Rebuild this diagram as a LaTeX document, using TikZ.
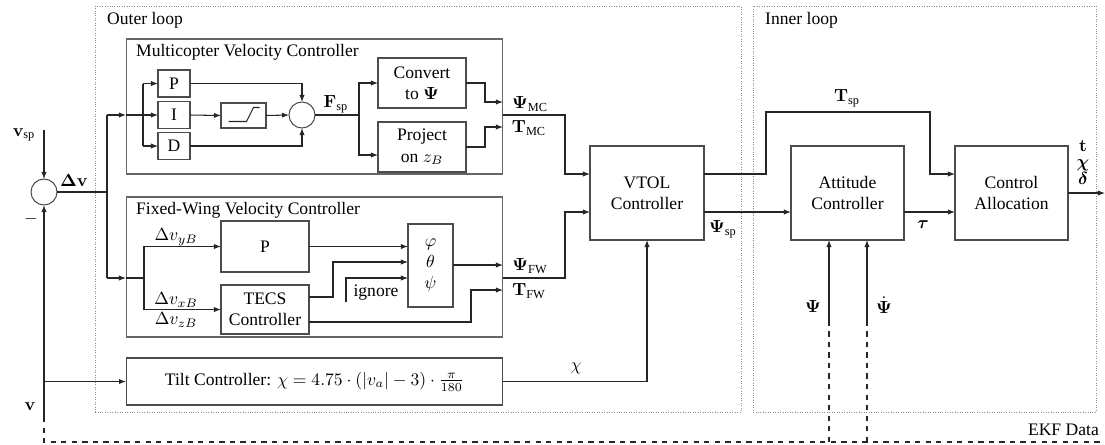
\documentclass[tikz,border=0pt]{standalone}
\usepackage{amsmath}
\usepackage{amssymb}
\usepackage[no-math]{fontspec}
\setmainfont{Liberation Serif}
\usetikzlibrary{arrows.meta}
\tikzset{block/.style = {shape = rectangle, draw = black!70, semithick, inner sep = 0pt, outer sep = 0pt, align = center}}
\tikzset{sumnode/.style = {shape = circle, draw = black!70, semithick, minimum size = 0.52cm, inner sep = 0pt, outer sep = 0pt}}
\tikzset{group/.style = {shape = rectangle, draw = black!60, semithick, inner sep = 0pt, outer sep = 0pt}}
\tikzset{loopbox/.style = {shape = rectangle, draw = black!45, densely dotted, inner sep = 0pt, outer sep = 0pt}}
\tikzset{wire/.style = {draw = black!85, semithick}}
\tikzset{arr/.style = {wire, -{Latex[length = 4pt, width = 3pt]}}}
\tikzset{feedback/.style = {wire, dashed}}

\begin{document}
\begin{tikzpicture}[x = 0.02cm, y = -0.02cm]
\useasboundingbox (0, 0) rectangle (1105, 444);

% loops
\node[loopbox, minimum width = 12.92cm, minimum height = 8.12cm] (outer) at (418, 209) {};
\node[loopbox, minimum width = 6.86cm, minimum height = 8.12cm] (inner) at (924.5, 209) {};
\node[anchor = west] (outertitle) at (101, 20) {Outer loop};
\node[anchor = west] (innertitle) at (759, 20) {Inner loop};

% multicopter velocity controller
\node[group, minimum width = 7.54cm, minimum height = 2.7cm] (mcbox) at (314.5, 106.5) {};
\node[anchor = west] (mctitle) at (130, 52) {Multicopter Velocity Controller};
\node[block, minimum width = 0.64cm, minimum height = 0.54cm] (pblk) at (174, 83.5) {P};
\node[block, minimum width = 0.64cm, minimum height = 0.54cm] (iblk) at (174, 115) {I};
\node[block, minimum width = 0.64cm, minimum height = 0.54cm] (dblk) at (174, 146) {D};
\node[block, minimum width = 0.9cm, minimum height = 0.5cm] (sat) at (243.5, 115.5) {};
\node[sumnode] (summc) at (302, 115) {};
\node[block, minimum width = 1.76cm, minimum height = 1cm] (conv) at (422, 83) {Convert\\to $\boldsymbol{\Psi}$};
\node[block, minimum width = 1.76cm, minimum height = 1cm] (proj) at (422, 147) {Project\\on $z_B$};
\node (fsplabel) at (336, 104) {$\mathbf{F}_{\text{sp}}$};
\node (mcpsilabel) at (530, 104) {$\boldsymbol{\Psi}_{\text{MC}}$};
\node (mctlabel) at (529, 128) {$\mathbf{T}_{\text{MC}}$};

% fixed-wing velocity controller
\node[group, minimum width = 7.54cm, minimum height = 2.8cm] (fwbox) at (314.5, 267) {};
\node[anchor = west] (fwtitle) at (130, 210) {Fixed-Wing Velocity Controller};
\node[block, minimum width = 1.76cm, minimum height = 1.02cm] (fwp) at (265, 246.5) {P};
\node[block, minimum width = 1.76cm, minimum height = 0.98cm] (tecs) at (265, 309.5) {TECS\\Controller};
\node[block, minimum width = 0.9cm, minimum height = 1.66cm] (ang) at (430.5, 265.5) {$\varphi$\\$\theta$\\$\psi$};
\node (dvylabel) at (176, 237) {$\Delta v_{yB}$};
\node (dvxlabel) at (176, 300) {$\Delta v_{xB}$};
\node (dvzlabel) at (176, 320) {$\Delta v_{zB}$};
\node (ignlabel) at (376, 293) {ignore};
\node (fwpsilabel) at (530, 266) {$\boldsymbol{\Psi}_{\text{FW}}$};
\node (fwtlabel) at (529, 291) {$\mathbf{T}_{\text{FW}}$};

% tilt controller
\node[block, minimum width = 7.54cm, minimum height = 0.94cm] (tilt) at (314.5, 381.5) {Tilt Controller: $\chi = 4.75 \cdot (|v_a| - 3) \cdot \frac{\pi}{180}$};
\node (chilabel) at (576, 368) {$\chi$};

% vtol, attitude, allocation
\node[block, minimum width = 2.28cm, minimum height = 1.88cm] (vtol) at (647, 193) {VTOL\\Controller};
\node[block, minimum width = 2.26cm, minimum height = 1.88cm] (att) at (847.5, 193) {Attitude\\Controller};
\node[block, minimum width = 2.26cm, minimum height = 1.88cm] (alloc) at (1011.5, 193) {Control\\Allocation};
\node (psisplabel) at (723, 229) {$\boldsymbol{\Psi}_{\text{sp}}$};
\node (tsplabel) at (847, 98) {$\mathbf{T}_{\text{sp}}$};
\node (taulabel) at (923, 225) {$\boldsymbol{\tau}$};
\node[align = center, inner sep = 0pt] (outlabel) at (1083, 162) {$\mathbf{t}$\\[-2.6pt]$\boldsymbol{\chi}$\\[-2.6pt]$\boldsymbol{\delta}$};
\node (psilabel) at (813, 306) {$\boldsymbol{\Psi}$};
\node (psidotlabel) at (884, 305) {$\dot{\boldsymbol{\Psi}}$};

% velocity error
\node[sumnode] (sumv) at (44, 192) {};
\node (vsplabel) at (24, 135) {$\mathbf{v}_{\text{sp}}$};
\node (dvlabel) at (74, 180) {$\boldsymbol{\Delta}\mathbf{v}$};
\node (minuslabel) at (31, 219) {$-$};
\node (vlabel) at (30, 407) {$\mathbf{v}$};
\node[anchor = east] (ekflabel) at (1105, 430) {EKF Data};

% bend points
\coordinate (vspin) at (44, 130);
\coordinate (vfb) at (44, 417);
\coordinate (ekfl) at (44, 442);
\coordinate (ekfr) at (1105, 442);
\coordinate (dvsplit) at (107, 192);
\coordinate (dvtop) at (107, 115);
\coordinate (dvbot) at (107, 278);
\coordinate (mcin) at (126, 115);
\coordinate (pidsplit) at (143, 115);
\coordinate (fsplit) at (359, 115);
\coordinate (projin) at (378, 155);
\coordinate (mcpsi) at (503, 102);
\coordinate (mct) at (503, 127);
\coordinate (mcout) at (503, 115);
\coordinate (fwin) at (126, 278);
\coordinate (fwsplit) at (144, 278);
\coordinate (tecsup) at (309, 297);
\coordinate (tecslow) at (309, 322);
\coordinate (angth) at (408, 262);
\coordinate (angps) at (408, 278);
\coordinate (ign) at (346, 302);
\coordinate (fwpsi) at (503, 265);
\coordinate (fwt) at (503, 290);
\coordinate (fwout) at (503, 278);
\coordinate (vtolmc) at (590, 174);
\coordinate (vtolfw) at (590, 212);
\coordinate (vtolt) at (704, 174);
\coordinate (vtolpsi) at (704, 212);
\coordinate (tspup) at (766, 112);
\coordinate (tspdown) at (930, 112);
\coordinate (alloct) at (955, 174);
\coordinate (allocin) at (955, 212);
\coordinate (attout) at (904, 212);
\coordinate (allocout) at (1105, 193);
\coordinate (psiin) at (829, 325);
\coordinate (psidotin) at (867, 325);

% velocity error
\draw[arr] (vspin) -- (sumv.north);
\draw[arr] (vfb) -- (sumv.south);
\draw[feedback] (vfb) -- (ekfl) -- (ekfr);
\draw[arr] (sumv.south |- tilt.west) -- (tilt.west);
\draw[wire] (sumv.east) -- (dvsplit);
\draw[wire] (dvtop) -- (dvbot);
\draw[arr] (dvtop) -- (mcin);
\draw[arr] (dvbot) -- (fwin);

% multicopter wires
\draw[arr] (mcin) -- (iblk.west);
\draw[wire] (pidsplit |- pblk) -- (pidsplit |- dblk);
\draw[arr] (pidsplit |- pblk) -- (pblk.west);
\draw[arr] (pidsplit |- dblk) -- (dblk.west);
\draw[arr] (pblk.east) -| (summc.north);
\draw[arr] (iblk.east) -- (sat.west);
\draw[arr] (sat.east) -- (summc.west);
\draw[arr] (dblk.east) -| (summc.south);
\draw[wire] (sat.center) ++(-15, 6) -- ++(18, 0) -- ++(7, -14) -- ++(6, 0);
\draw[wire] (summc.east) -- (fsplit);
\draw[arr] (fsplit) |- (conv.west);
\draw[arr] (fsplit) |- (projin);
\draw[arr] (conv.east) -- ++(19, 0) |- (mcpsi);
\draw[arr] (proj.east) -- ++(19, 0) |- (mct);
\draw[arr] (mcout) -- ++(62, 0) |- (vtolmc);

% fixed-wing wires
\draw[wire] (fwin) -- (fwsplit);
\draw[arr] (fwsplit) |- (fwp.west);
\draw[arr] (fwsplit) |- (tecs.west);
\draw[arr] (fwp.east) -- (ang.west |- fwp.east);
\draw[arr] (tecsup) -- ++(24, 0) |- (angth);
\draw[arr] (ign) |- (angps);
\draw[arr] (tecslow) -- ++(162, 0) |- (fwt);
\draw[arr] (ang.east |- fwpsi) -- (fwpsi);
\draw[arr] (fwout) -- ++(62, 0) |- (vtolfw);
\draw[arr] (tilt.east) -| (vtol.south);

% inner loop wires
\draw[arr] (vtolt) -| (tspup) -- (tspdown) |- (alloct);
\draw[arr] (vtolpsi) -- (att.west |- vtolpsi);
\draw[arr] (attout) -- (allocin);
\draw[arr] (alloc.east) -- (allocout);
\draw[feedback] (psiin |- ekfl) -- (psiin);
\draw[feedback] (psidotin |- ekfl) -- (psidotin);
\draw[arr] (psiin) -- (psiin |- att.south);
\draw[arr] (psidotin) -- (psidotin |- att.south);
\end{tikzpicture}
\end{document}
